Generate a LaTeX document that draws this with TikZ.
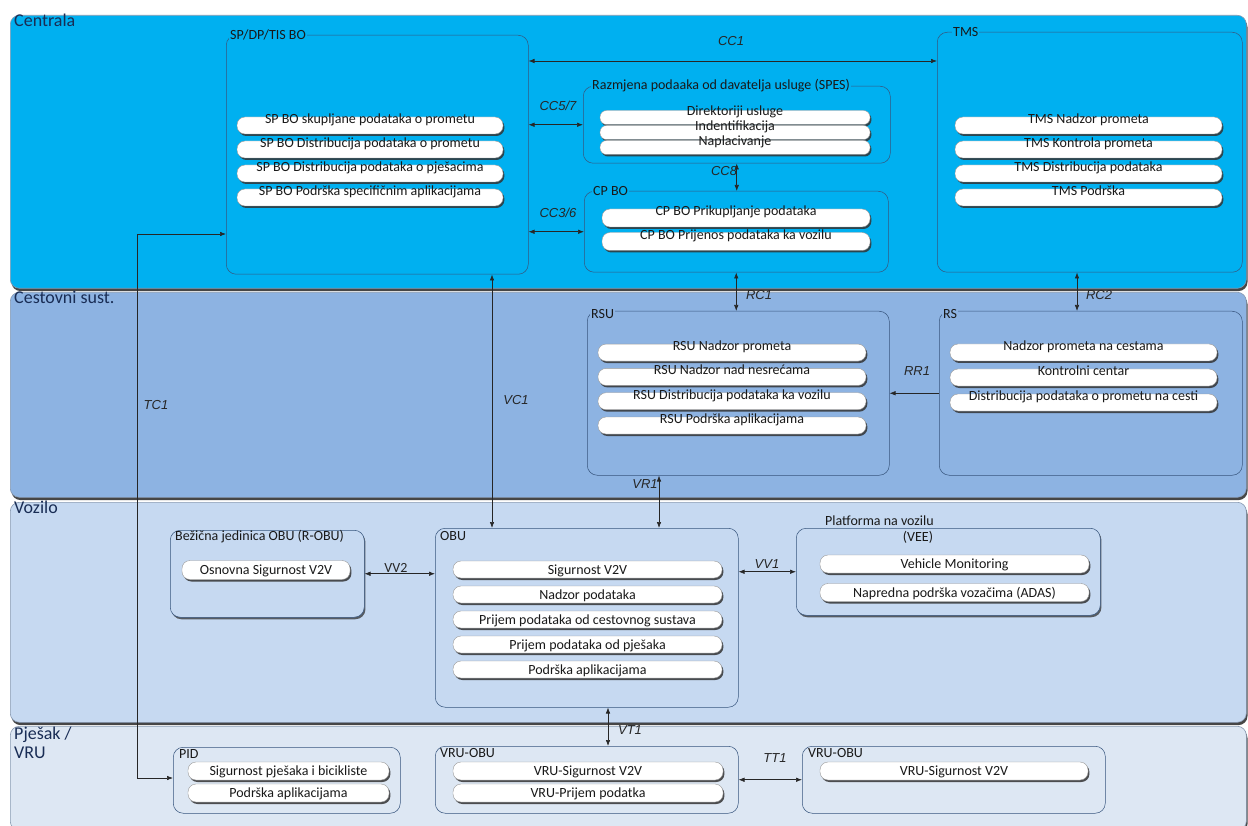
\documentclass[tikz,border=0pt]{standalone}
\usepackage{fontspec}
\setmainfont{Carlito}
\newfontfamily\arialfont{Liberation Sans}
\usepackage{tikz}
\usetikzlibrary{arrows.meta}
\usetikzlibrary{shadows}

\definecolor{cenblue}{RGB}{0,176,240}
\definecolor{cesblue}{RGB}{141,179,226}
\definecolor{vozblue}{RGB}{198,217,241}
\definecolor{pjeblue}{RGB}{221,231,243}
\definecolor{edgeblue}{RGB}{55,85,125}
\definecolor{lblnavy}{RGB}{25,45,85}

\begin{document}
\begin{tikzpicture}[x=1pt, y=-1pt,
	band/.style={draw=edgeblue!60, line width=0.6pt, rounded corners=9pt,
		anchor=north west, inner sep=0pt,
		drop shadow={shadow xshift=1.2pt, shadow yshift=-2.8pt, fill=black!85, opacity=0.85}},
	bandlbl/.style={anchor=north west, inner sep=1pt, text=lblnavy, align=left,
		font=\fontsize{18}{19}\selectfont},
	grp/.style={draw=edgeblue, line width=0.5pt, rounded corners=10pt,
		anchor=north west, inner sep=0pt},
	grpsh/.style={grp, fill=vozblue,
		drop shadow={shadow xshift=1.2pt, shadow yshift=-2pt, fill=black!80, opacity=0.75}},
	grplbl/.style={anchor=west, inner sep=1pt, text=black!90,
		font=\fontsize{14}{16}\selectfont},
	pill/.style={draw=black!40, line width=0.4pt, fill=white, rounded corners=8pt,
		inner sep=0pt, text=black!90, font=\fontsize{14}{16}\selectfont,
		text height=9pt, text depth=0pt,
		drop shadow={shadow xshift=1.4pt, shadow yshift=-2pt, fill=black!80, opacity=0.85}},
	pillhi/.style={pill, text height=0pt, text depth=4pt},
	conn/.style={black!85, line width=0.6pt},
	dbl/.style={conn, {Latex[length=6pt, width=4.5pt]}-{Latex[length=6pt, width=4.5pt]}},
	sgl/.style={conn, -{Latex[length=6pt, width=4.5pt]}},
	conlbl/.style={inner sep=1pt, text=black!85,
		font=\arialfont\itshape\fontsize{13}{15}\selectfont}
]
	\fill[white] (0,0) rectangle (1248,826);
	\useasboundingbox (0,0) rectangle (1248,826);

	% layers
	\node[band, fill=cenblue, minimum width=1236pt, minimum height=273pt] (centrala) at (10,15) {};
	\node[band, fill=cesblue, minimum width=1236pt, minimum height=205pt] (cestovni) at (10,292) {};
	\node[band, fill=vozblue, minimum width=1236pt, minimum height=220pt] (vozilo) at (10,502) {};
	\node[band, fill=pjeblue, minimum width=1236pt, minimum height=104pt] (pjesak) at (10,726) {};
	\node[bandlbl] (centrala-t) at (13,13) {Centrala};
	\node[bandlbl] (cestovni-t) at (13,290) {Cestovni sust.};
	\node[bandlbl] (vozilo-t) at (13,500) {Vozilo};
	\node[bandlbl] (pjesak-t) at (13,726) {Pješak /\\VRU};

	% Centrala
	\node[grp, minimum width=302pt, minimum height=239pt] (sp) at (226,35) {};
	\node[grplbl, fill=cenblue] (sp-t) at ([xshift=3pt]sp.north west) {SP/DP/TIS BO};
	\foreach \t [count=\i] in {SP BO skupljane podataka o prometu,
		SP BO Distribucija podataka o prometu, SP BO Distribucija podataka o pješacima,
		SP BO Podrška specifičnim aplikacijama}
		\node[pillhi, minimum width=266pt, minimum height=17pt] (sp\i) at (370,101.5+24*\i) {\t};

	\node[grp, minimum width=307pt, minimum height=77pt] (spes) at (583,86) {};
	\node[grplbl, fill=cenblue] (spes-t) at ([xshift=8pt]spes.north west)
		{Razmjena podaaka od davatelja usluge (SPES)};
	\foreach \t [count=\i] in {Direktoriji usluge, Indentifikacija, Naplacivanje}
		\node[pillhi, rounded corners=6.5pt, minimum width=270pt, minimum height=14pt]
			(spes\i) at (735,102.5+15*\i) {\t};

	\node[grp, minimum width=304pt, minimum height=81pt] (cpbo) at (584,191) {};
	\node[grplbl, fill=cenblue] (cpbo-t) at ([xshift=8pt]cpbo.north west) {CP BO};
	\foreach \t [count=\i] in {CP BO Prikupljanje podataka, CP BO Prijenos podataka ka vozilu}
		\node[pillhi, minimum width=268pt, minimum height=18pt] (cpbo\i) at (736,194.5+23.5*\i) {\t};

	\node[grp, minimum width=305pt, minimum height=240pt] (tms) at (937,32) {};
	\node[grplbl, fill=cenblue] (tms-t) at ([xshift=15pt]tms.north west) {TMS};
	\foreach \t [count=\i] in {TMS Nadzor prometa, TMS Kontrola prometa,
		TMS Distribucija podataka, TMS Podrška}
		\node[pillhi, minimum width=267pt, minimum height=17pt] (tms\i) at (1088.5,101.5+24*\i) {\t};

	% Cestovni sustav
	\node[grp, minimum width=302pt, minimum height=164pt] (rsu) at (587,311) {};
	\node[grplbl, fill=cesblue] (rsu-t) at ([xshift=3pt, yshift=-3pt]rsu.north west) {RSU};
	\foreach \t [count=\i] in {RSU Nadzor prometa, RSU Nadzor nad nesrećama,
		RSU Distribucija podataka ka vozilu, RSU Podrška aplikacijama}
		\node[pillhi, minimum width=268pt, minimum height=17pt] (rsu\i) at (732,328.3+24.3*\i) {\t};

	\node[grp, minimum width=303pt, minimum height=164pt] (rs) at (939,311) {};
	\node[grplbl, fill=cesblue] (rs-t) at ([xshift=3pt, yshift=-3pt]rs.north west) {RS};
	\foreach \t [count=\i] in {Nadzor prometa na cestama, Kontrolni centar,
		Distribucija podataka o prometu na cesti}
		\node[pillhi, minimum width=267pt, minimum height=17pt] (rs\i) at (1083.5,327.5+25*\i) {\t};

	% Vozilo
	\node[grpsh, minimum width=194pt, minimum height=87pt] (robu) at (170,530) {};
	\node[grplbl] (robu-t) at ([xshift=4pt, yshift=-7pt]robu.north west)
		{Bežična jedinica OBU (R-OBU)};
	\node[pill, minimum width=168pt, minimum height=19pt] (robu1) at (266,570) {Osnovna Sigurnost V2V};

	\node[grp, minimum width=303pt, minimum height=179pt] (obu) at (435,528) {};
	\node[grplbl] (obu-t) at ([xshift=4pt, yshift=-8pt]obu.north west) {OBU};
	\foreach \t [count=\i] in {Sigurnost V2V, Nadzor podataka,
		Prijem podataka od cestovnog sustava, Prijem podataka od pješaka,
		Podrška aplikacijama}
		\node[pill, minimum width=269pt, minimum height=17pt] (obu\i) at (587.5,544.5+25*\i) {\t};

	\node[grpsh, minimum width=304pt, minimum height=87pt] (vee) at (796,528) {};
	\node[grplbl] (vee-t) at (824,521) {Platforma na vozilu};
	\node[grplbl, anchor=center] (vee-t2) at (918,537) {(VEE)};
	\foreach \t [count=\i] in {Vehicle Monitoring, Napredna podrška vozačima (ADAS)}
		\node[pill, minimum width=269pt, minimum height=18pt] (vee\i) at (954.5,535.5+28.5*\i) {\t};

	% Pjesak / VRU
	\node[grp, minimum width=227pt, minimum height=66pt] (pid) at (173,747) {};
	\node[grplbl] (pid-t) at ([xshift=5pt, yshift=-7pt]pid.north west) {PID};
	\foreach \t [count=\i] in {Sigurnost pješaka i bicikliste, Podrška aplikacijama}
		\node[pill, minimum width=201pt, minimum height=18pt] (pid\i) at (288.5,749+22*\i) {\t};

	\node[grp, minimum width=303pt, minimum height=67pt] (vru) at (435,746) {};
	\node[grplbl] (vru-t) at ([xshift=4pt, yshift=-7pt]vru.north west) {VRU-OBU};
	\foreach \t [count=\i] in {VRU-Sigurnost V2V, VRU-Prijem podatka}
		\node[pill, minimum width=270pt, minimum height=18pt] (vru\i) at (588,749+22*\i) {\t};

	\node[grp, minimum width=303pt, minimum height=67pt] (vrub) at (802,746) {};
	\node[grplbl] (vrub-t) at ([xshift=5pt, yshift=-7pt]vrub.north west) {VRU-OBU};
	\node[pill, minimum width=268pt, minimum height=18pt] (vrub1) at (954,771) {VRU-Sigurnost V2V};

	% connectors
	\coordinate (cc1) at (733,61);
	\coordinate (rc2) at (1077,0);
	\coordinate (vc1) at (492,0);
	\coordinate (vr1) at (659,0);
	\coordinate (vt1) at (608,0);
	\coordinate (tc1a) at (137,234);
	\coordinate (tc1b) at (137,778);
	\draw[dbl] (sp.east |- cc1) -- (tms.west |- cc1);
	\draw[dbl] (sp.east |- spes.west) -- (spes.west);
	\draw[dbl] (sp.east |- cpbo.west) -- (cpbo.west);
	\draw[dbl] (spes.south) -- (spes.south |- cpbo.north);
	\draw[dbl] (cpbo.south) -- (cpbo.south |- rsu.north);
	\draw[dbl] (tms.south -| rc2) -- (rs.north -| rc2);
	\draw[sgl] (rs.west) -- (rsu.east |- rs.west);
	\draw[dbl] (sp.south -| vc1) -- (obu.north -| vc1);
	\draw[dbl] (rsu.south -| vr1) -- (obu.north -| vr1);
	\draw[dbl] (robu.east) -- (obu.west |- robu.east);
	\draw[dbl] (obu.east |- vee.west) -- (vee.west);
	\draw[dbl] (obu.south -| vt1) -- (vru.north -| vt1);
	\draw[dbl] (vru.east) -- (vrub.west);
	\draw[dbl] (sp.west |- tc1a) -- (tc1a) -- (tc1b) -- (pid.west |- tc1b);

	% connector labels
	\node[conlbl] (cc1-l) at (731,41) {CC1};
	\node[conlbl] (cc57-l) at (558,106) {CC5/7};
	\node[conlbl] (cc8-l) at (724,171) {CC8};
	\node[conlbl] (cc36-l) at (558,213) {CC3/6};
	\node[conlbl] (tc1-l) at (156,405) {TC1};
	\node[conlbl] (vc1-l) at (516,400) {VC1};
	\node[conlbl] (rc1-l) at (759,295) {RC1};
	\node[conlbl] (rc2-l) at (1099,295) {RC2};
	\node[conlbl] (rr1-l) at (917,371) {RR1};
	\node[conlbl] (vr1-l) at (645,484) {VR1};
	\node[conlbl, font=\fontsize{14}{16}\selectfont] (vv2-l) at (396,568) {VV2};
	\node[conlbl] (vv1-l) at (767,564) {VV1};
	\node[conlbl] (vt1-l) at (630,730) {VT1};
	\node[conlbl] (tt1-l) at (775,758) {TT1};
\end{tikzpicture}
\end{document}
